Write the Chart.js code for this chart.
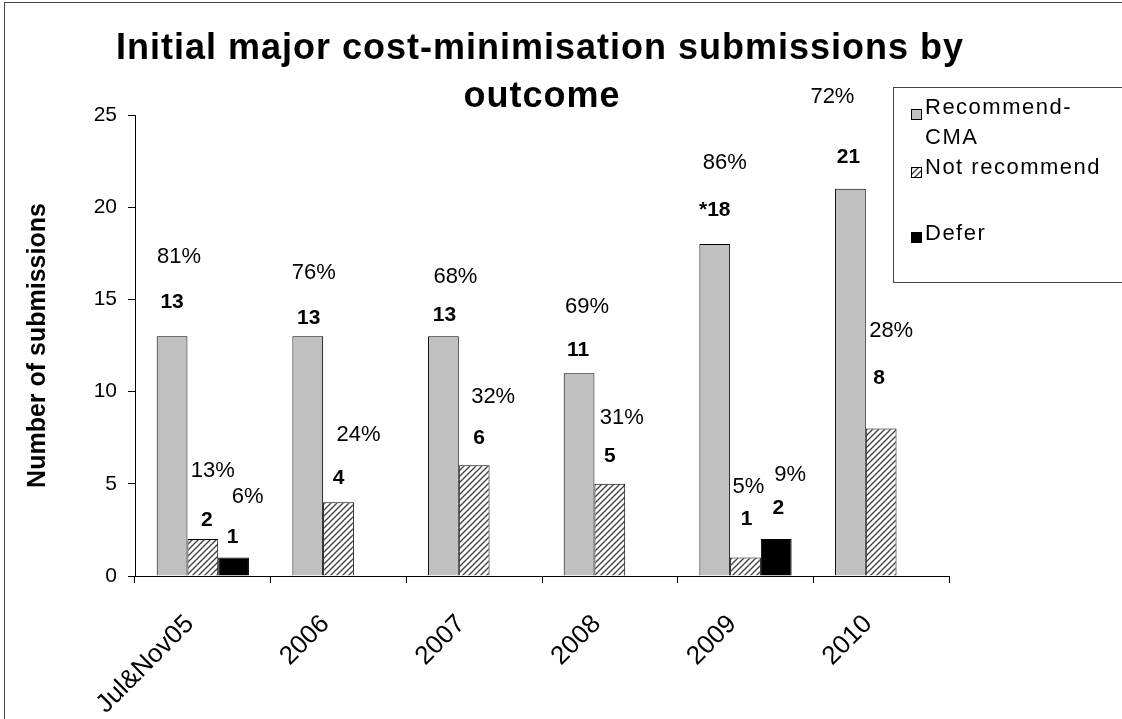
<!DOCTYPE html>
<html>
<head>
<meta charset="utf-8">
<script src="https://cdn.jsdelivr.net/npm/chart.js@4.4.0/dist/chart.umd.min.js"></script>
<style>
html, body { margin: 0; padding: 0; background: #fff; }
#wrap { width: 1122px; height: 719px; position: relative; }
</style>
</head>
<body>
<div id="wrap"><canvas id="myChart" width="1122" height="719"></canvas></div>
<script>
// chart data
const categories = ['Jul&Nov05', '2006', '2007', '2008', '2009', '2010'];
const recommendCMA = [13, 13, 13, 11, 18, 21];
const notRecommend = [2, 4, 6, 5, 1, 8];
const deferred = [1, null, null, null, 2, null];
const recommendText = ['13', '13', '13', '11', '*18', '21'];
const recommendPct = ['81%', '76%', '68%', '69%', '86%', '72%'];
const notRecommendPct = ['13%', '24%', '32%', '31%', '5%', '28%'];
const deferPct = ['6%', null, null, null, '9%', null];
const yTicks = [0, 5, 10, 15, 20, 25];

// label nudges (px) relative to bar centre / bar top, as in the original slide
const countNudge = [
    [[0, -34], [1, -18], [1, -21], [-1, -23], [0, -34], [-2, -32]],
    [[4, -19], [0, -24], [5, -27], [0, -28], [1, -38], [-2, -50]],
    [[-1, -20], null, null, null, [2, -31], null]
];
const pctNudge = [
    [[7, -79], [6, -63], [12, -59], [8, -66], [10, -81], [-18, -92]],
    [[10, -68], [20, -67], [19, -68], [12, -66], [3, -71], [10, -98]],
    [[14, -61], null, null, null, [14, -64], null]
];

const FONT = "'Liberation Sans', Arial, sans-serif";
Chart.defaults.font.family = FONT;
Chart.defaults.color = '#000';

// diagonal hatch for "Not recommend"
function makeHatch() {
    const c = document.createElement('canvas');
    c.width = 6; c.height = 6;
    const g = c.getContext('2d');
    g.fillStyle = '#fff';
    g.fillRect(0, 0, 6, 6);
    g.strokeStyle = '#444';
    g.lineWidth = 1.4;
    g.beginPath();
    g.moveTo(-1, 7); g.lineTo(7, -1);
    g.moveTo(-4, 4); g.lineTo(4, -4);
    g.moveTo(2, 10); g.lineTo(10, 2);
    g.stroke();
    return g.createPattern(c, 'repeat');
}
const hatch = makeHatch();

const labelsPlugin = {
    id: 'barLabels',
    afterDatasetsDraw(chart) {
        const ctx = chart.ctx;
        const countText = [recommendText, notRecommend.map(String), deferred.map(v => v == null ? null : String(v))];
        const pctText = [recommendPct, notRecommendPct, deferPct];
        ctx.save();
        ctx.fillStyle = '#000';
        ctx.textAlign = 'center';
        ctx.textBaseline = 'middle';
        chart.data.datasets.forEach((ds, i) => {
            const meta = chart.getDatasetMeta(i);
            meta.data.forEach((bar, j) => {
                if (ds.data[j] == null) return;
                const c = countNudge[i][j];
                const p = pctNudge[i][j];
                ctx.font = 'bold 21px ' + FONT;
                ctx.fillText(countText[i][j], bar.x + c[0], bar.y + c[1]);
                ctx.font = '22px ' + FONT;
                ctx.fillText(pctText[i][j], bar.x + p[0], bar.y + p[1]);
            });
        });
        ctx.restore();
    }
};

const framePlugin = {
    id: 'frame',
    beforeDraw(chart) {
        const ctx = chart.ctx;
        ctx.save();
        ctx.fillStyle = '#fff';
        ctx.fillRect(0, 0, chart.width, chart.height);
        ctx.strokeStyle = '#444';
        ctx.lineWidth = 1;
        ctx.strokeRect(4.5, 2.5, chart.width + 20, chart.height + 20);
        ctx.restore();
    },
    afterDraw(chart) {
        const ctx = chart.ctx;
        ctx.save();
        // title
        ctx.fillStyle = '#000';
        ctx.textAlign = 'center';
        ctx.textBaseline = 'middle';
        ctx.letterSpacing = '1px';
        ctx.font = 'bold 36px ' + FONT;
        ctx.fillText('Initial major cost-minimisation submissions by', 540, 49);
        ctx.fillText('outcome', 542, 97);
        // legend box
        ctx.strokeStyle = '#444';
        ctx.lineWidth = 1;
        ctx.fillStyle = '#fff';
        ctx.fillRect(893.5, 87.5, 240, 195);
        ctx.strokeRect(893.5, 87.5, 240, 195);
        const items = [
            { fill: '#c0c0c0', box: 109, lines: [['Recommend-', 108], ['CMA', 138]] },
            { fill: hatch, box: 167, lines: [['Not recommend', 168]] },
            { fill: '#000', box: 232, lines: [['Defer', 234]] }
        ];
        ctx.font = '22px ' + FONT;
        ctx.letterSpacing = '1.5px';
        ctx.textAlign = 'left';
        items.forEach(it => {
            ctx.fillStyle = it.fill;
            ctx.fillRect(911.5, it.box + 0.5, 10, 10);
            ctx.strokeStyle = '#000';
            ctx.strokeRect(911.5, it.box + 0.5, 10, 10);
            ctx.fillStyle = '#000';
            it.lines.forEach(l => ctx.fillText(l[0], 925, l[1]));
        });
        ctx.restore();
    }
};

new Chart(document.getElementById('myChart'), {
    type: 'bar',
    data: {
        labels: categories,
        datasets: [{
            label: 'Recommend-CMA',
            data: recommendCMA,
            backgroundColor: '#c0c0c0',
            borderColor: '#000',
            borderWidth: 1
        }, {
            label: 'Not recommend',
            data: notRecommend,
            backgroundColor: hatch,
            borderColor: '#000',
            borderWidth: 1
        }, {
            label: 'Defer',
            data: deferred,
            backgroundColor: '#000',
            borderColor: '#000',
            borderWidth: 1
        }]
    },
    options: {
        responsive: false,
        animation: false,
        layout: { padding: { top: 115, right: 173, left: 0, bottom: 0 } },
        datasets: { bar: { categoryPercentage: 0.68, barPercentage: 1 } },
        plugins: {
            legend: { display: false },
            title: { display: false },
            tooltip: { enabled: false }
        },
        scales: {
            x: {
                afterFit(s) { s.height = 143; },
                grid: { drawOnChartArea: false, tickLength: 7, color: '#000', offset: true },
                border: { color: '#000' },
                ticks: { minRotation: 45, maxRotation: 45, padding: 26, labelOffset: -13, font: { size: 26 } }
            },
            y: {
                min: 0,
                max: 25,
                afterFit(s) { s.width = 135; },
                afterBuildTicks(s) { s.ticks = yTicks.map(v => ({ value: v })); },
                grid: { drawOnChartArea: false, tickLength: 7, color: '#000' },
                border: { color: '#000' },
                ticks: { padding: 11, font: { size: 21 } },
                title: {
                    display: true,
                    text: 'Number of submissions',
                    font: { size: 25, weight: 'bold' },
                    padding: { top: 23, bottom: 0 }
                }
            }
        }
    },
    plugins: [framePlugin, labelsPlugin]
});
</script>
</body>
</html>
